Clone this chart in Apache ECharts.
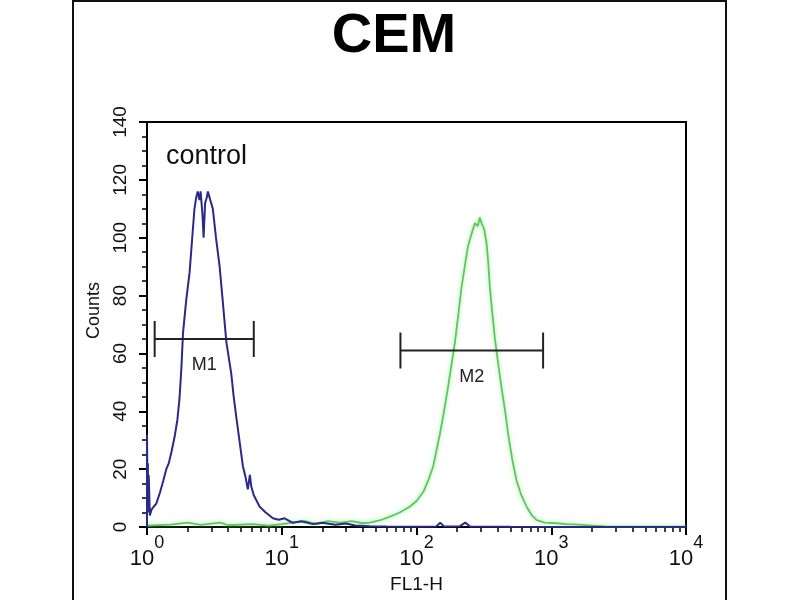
<!DOCTYPE html>
<html>
<head>
<meta charset="utf-8">
<script src="https://cdn.jsdelivr.net/npm/echarts@6/dist/echarts.min.js"></script>
<style>html,body{margin:0;padding:0;background:#fff}#c{width:800px;height:600px}</style>
</head>
<body>
<div id="c"></div>
<script>
const chartTitle = 'CEM';
const xName = 'FL1-H';
const yName = 'Counts';
const controlLabel = 'control';
const xMajorTicks = [1, 10, 100, 1000, 10000];
const xMinorTicks = [1,2,3,4,5,6,7,8,9,10,20,30,40,50,60,70,80,90,100,200,300,400,500,600,700,800,900,1000,2000,3000,4000,5000,6000,7000,8000,9000,10000];
const yTicks = [0, 20, 40, 60, 80, 100, 120, 140];

const controlData = [
  [1.0, 0], [1.0, 32], [1.01, 8], [1.015, 22], [1.02, 5], [1.03, 18], [1.05, 4], [1.08, 6], [1.12, 7],
  [1.17, 8], [1.25, 12], [1.32, 16], [1.39, 20], [1.45, 22], [1.52, 26], [1.6, 31], [1.68, 37],
  [1.74, 44], [1.8, 55], [1.85, 67], [1.95, 78], [2.07, 88], [2.15, 98], [2.25, 110], [2.32, 114],
  [2.38, 116], [2.45, 113], [2.5, 116], [2.58, 108], [2.63, 100], [2.7, 112], [2.78, 114],
  [2.83, 116], [2.95, 113], [3.08, 110], [3.25, 100], [3.46, 90], [3.65, 78], [3.88, 64], [4.0, 60],
  [4.22, 53], [4.4, 45], [4.6, 38], [4.85, 30], [5.15, 21], [5.4, 17], [5.6, 13], [5.8, 18],
  [5.94, 14], [6.2, 11], [6.86, 7], [7.6, 5], [8.6, 3], [9.5, 2.5], [10.5, 3], [12, 1.5], [14, 2],
  [17, 1], [20, 1.5], [25, 0.8], [30, 1.2], [35, 0.5], [45, 0.3], [60, 0.2], [100, 0.1], [140, 0.2],
  [150, 1.5], [160, 0.2], [210, 0.3], [230, 1.5], [250, 0.2], [500, 0.1], [10000, 0]
];

const sampleData = [
  [1.0, 0.5], [1.5, 0.8], [2, 1.5], [2.5, 0.7], [3.5, 1.5], [4, 0.6], [6, 1], [8, 0.5], [10, 1],
  [12, 1.5], [15, 2], [18, 1], [22, 2], [27, 1.5], [33, 2], [40, 1.3], [45, 1.5], [55, 2.5],
  [63, 3.5], [75, 5], [89, 7], [100, 9], [112, 12], [122, 16], [133, 21], [149, 32], [160, 40],
  [171, 48], [183, 57], [193, 64], [205, 74], [216, 83], [228, 90], [241, 97], [255, 101],
  [271, 105], [285, 104], [295, 107], [304, 105], [318, 103], [331, 98], [340, 92], [350, 83],
  [365, 74], [382, 65], [405, 56], [428, 48], [455, 40], [479, 32], [515, 23], [553, 16],
  [600, 11], [656, 7], [720, 4], [780, 2.4], [900, 1.5], [1096, 1.3], [1300, 1], [1600, 0.8],
  [2000, 0.5], [2500, 0.2], [10000, 0.1]
];

// gate markers: [from, to, level, name]
const markers = [
  [1.14, 6.2, 65, 'M1'],
  [76, 870, 61, 'M2']
];

const FONT = '"Liberation Sans", Arial, sans-serif';
const chart = echarts.init(document.getElementById('c'));

chart.setOption({
  animation: false,
  backgroundColor: '#fff',
  title: {
    text: chartTitle, left: 389, top: 4, textAlign: 'center',
    textStyle: { fontSize: 56, fontWeight: 'bold', color: '#000', fontFamily: FONT }
  },
  graphic: [
    { type: 'rect', shape: { x: 73, y: 1, width: 653, height: 640 }, style: { fill: 'none', stroke: '#111', lineWidth: 2 }, silent: true },
    { type: 'text', left: 166, top: 143, style: { text: controlLabel, fontSize: 27, fontFamily: FONT, fill: '#111' } }
  ],
  grid: { left: 147, top: 122, right: 114, bottom: 73, show: true, borderColor: '#000', borderWidth: 2, backgroundColor: 'transparent' },
  xAxis: [
    {
      type: 'log', logBase: 10, min: 1, max: 10000, position: 'bottom',
      name: xName, nameLocation: 'middle', nameGap: 47,
      nameTextStyle: { fontSize: 19, fontFamily: FONT, color: '#111' },
      axisLine: { lineStyle: { color: '#000', width: 2 } },
      axisTick: { inside: false, length: 8, lineStyle: { color: '#000', width: 2 }, customValues: xMajorTicks },
      splitLine: { show: false },
      axisLabel: {
        customValues: xMajorTicks, margin: 7, color: '#111',
        formatter: function (v) { return '{b|10}{s|' + Math.round(Math.log10(v)) + '}'; },
        rich: {
          b: { fontSize: 22, fontFamily: FONT, color: '#111', lineHeight: 36, verticalAlign: 'bottom' },
          s: { fontSize: 18, fontFamily: FONT, color: '#111', lineHeight: 36, verticalAlign: 'top' }
        }
      }
    },
    {
      type: 'log', logBase: 10, min: 1, max: 10000, position: 'bottom',
      axisLine: { show: false },
      axisTick: { inside: false, length: 5, lineStyle: { color: '#000', width: 1.5 }, customValues: xMinorTicks },
      axisLabel: { show: false },
      splitLine: { show: false }
    }
  ],
  yAxis: {
    type: 'value', min: 0, max: 140, interval: 20,
    name: yName, nameLocation: 'middle', nameGap: 37, nameRotate: 90,
    nameTextStyle: { fontSize: 18, fontFamily: FONT, color: '#111', padding: [0, 0, 0, 28] },
    axisLine: { show: true, lineStyle: { color: '#000', width: 2 } },
    axisTick: { show: true, inside: false, length: 8, lineStyle: { color: '#000', width: 2 } },
    minorTick: { show: true, splitNumber: 4, length: 5, lineStyle: { color: '#000', width: 1.5 } },
    splitLine: { show: false },
    axisLabel: { rotate: 90, margin: 17, fontSize: 19, fontFamily: FONT, color: '#111', customValues: yTicks }
  },
  series: [
    {
      type: 'line', name: 'sample', data: sampleData, xAxisIndex: 0, showSymbol: false, symbol: 'none',
      lineStyle: { color: '#5cc85c', width: 1.8, shadowBlur: 4, shadowColor: 'rgba(130,235,130,0.8)' }, z: 3
    },
    {
      type: 'line', name: 'control', data: controlData, xAxisIndex: 0, showSymbol: false, symbol: 'none',
      lineStyle: { color: '#2a2a88', width: 2 }, z: 4
    },
    {
      type: 'custom', name: 'gates', data: markers, xAxisIndex: 0, z: 5,
      encode: { x: [0, 1], y: 2 },
      renderItem: function (params, api) {
        const p1 = api.coord([api.value(0), api.value(2)]);
        const p2 = api.coord([api.value(1), api.value(2)]);
        const cap = 18;
        const st = { stroke: '#222', lineWidth: 2 };
        return {
          type: 'group',
          children: [
            { type: 'line', shape: { x1: p1[0], y1: p1[1], x2: p2[0], y2: p2[1] }, style: st },
            { type: 'line', shape: { x1: p1[0], y1: p1[1] - cap, x2: p1[0], y2: p1[1] + cap }, style: st },
            { type: 'line', shape: { x1: p2[0], y1: p2[1] - cap, x2: p2[0], y2: p2[1] + cap }, style: st },
            { type: 'text', style: { text: markers[params.dataIndex][3], x: (p1[0] + p2[0]) / 2, y: p1[1] + 26,
              align: 'center', verticalAlign: 'middle', fontSize: 18, fontFamily: FONT, fill: '#222' } }
          ]
        };
      }
    }
  ]
});
</script>
</body>
</html>
